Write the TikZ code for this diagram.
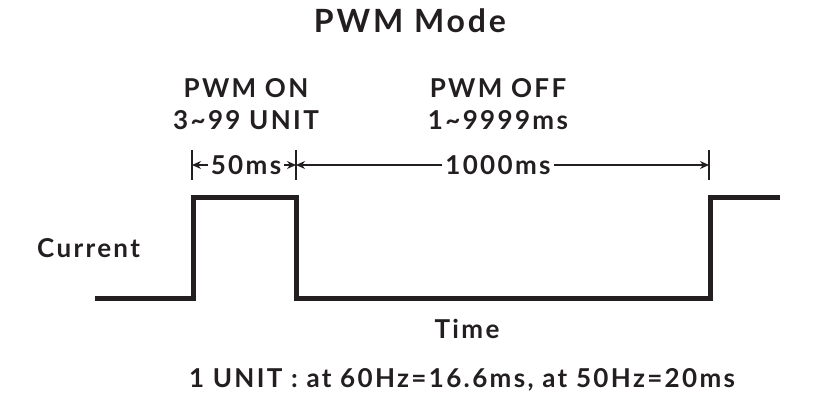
\documentclass[tikz,border=0pt]{standalone}
\usepackage{fontspec}
\setmainfont{Lato}[LetterSpace=9]
\usetikzlibrary{arrows.meta}
\definecolor{ink}{HTML}{231F20}

\tikzset{
  txt/.style={text=ink,inner sep=0pt,anchor=base,font=\bfseries\fontsize{26}{30}\selectfont},
  bigtxt/.style={txt,font=\bfseries\fontsize{32}{36}\selectfont},
  dimtxt/.style={txt,inner xsep=3pt},
  dimline/.style={draw=ink,line width=1.3pt,-{Stealth[length=9pt,width=8pt]}},
  tick/.style={draw=ink,line width=1.3pt},
  wave/.style={draw=ink,line width=5pt,line join=miter}
}

\begin{document}
\begin{tikzpicture}[x=1pt,y=-1pt]
\useasboundingbox (0,0) rectangle (828,409);

% headings
\node[bigtxt] (title) at (410,33) {PWM Mode};
\node[txt] (onA) at (246,98) {PWM ON};
\node[txt] (onB) at (246,130) {3\textasciitilde 99 UNIT};
\node[txt] (offA) at (498,98) {PWM OFF};
\node[txt] (offB) at (498,130) {1\textasciitilde 9999ms};

% dimension marks
\coordinate (t1) at (192,165);
\coordinate (t2) at (296,165);
\coordinate (t3) at (709,165);
\foreach \t in {t1,t2,t3}
  \draw[tick] ([yshift=15pt]\t) -- ([yshift=-15pt]\t);

\node[dimtxt] (on) at (246,175) {50ms};
\node[dimtxt] (off) at (498,175) {1000ms};
\draw[dimline] (on.west |- t1) -- (t1);
\draw[dimline] (on.east |- t2) -- (t2);
\draw[dimline] (off.west |- t2) -- (t2);
\draw[dimline] (off.east |- t3) -- (t3);

% waveform
\draw[wave] (95,298) -- (193,298) -- (193,198) -- (296,198)
  -- (296,298) -- (710,298) -- (710,198) -- (780,198);

\node[txt,anchor=base west] (cur) at (37,257) {Current};
\node[txt] (time) at (467,338) {Time};
\node[txt] (note) at (462,387) {1 UNIT : at 60Hz=16.6ms, at 50Hz=20ms};
\end{tikzpicture}
\end{document}
